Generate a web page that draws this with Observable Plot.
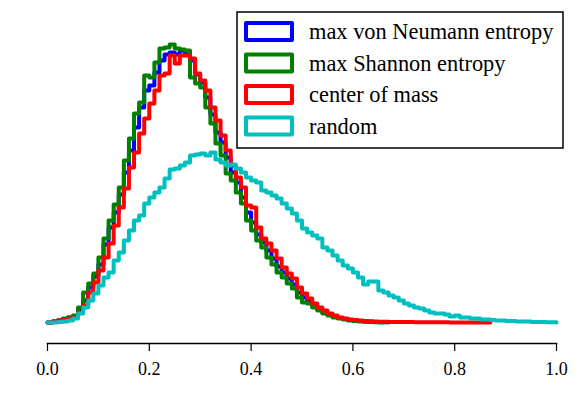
<!DOCTYPE html>
<html><head><meta charset="utf-8">
<script src="https://cdn.jsdelivr.net/npm/d3@7"></script>
<script src="https://cdn.jsdelivr.net/npm/@observablehq/plot@0.6"></script>
<style>body{margin:0;background:#fff} #chart{width:582px;height:394px} svg text{font-family:"Liberation Serif","Times New Roman","DejaVu Serif",serif !important;}</style>
</head><body><div id="chart"></div>
<script>
const binWidth = 0.01;
const seriesNames = ["max von Neumann entropy", "max Shannon entropy", "center of mass", "random"];
const seriesColors = ["#0000ff", "#008000", "#ff0000", "#00bfbf"];
const xTicks = [0.0, 0.2, 0.4, 0.6, 0.8, 1.0];

// histogram heights per bin of width 0.01, starting at 0
const vonNeumann = [0,1,2,3,5,6,12,22,35,46,58,78,95,110,128,150,172,195,215,232,237,250,262,268,270,268,272,268,262,248,240,225,208,190,180,165,150,140,125,110,100,88,80,72,64,56,50,44,38,30,25,21,17,13,10,8,6,4.5,3.5,2.5,2,1.5,1,0.7,0.5,0.3,0.2];
const shannon = [0,1,2,4,5,7,15,30,39,49,65,84,102,118,135,162,184,209,220,247,245,260,274,275,278,274,273,272,245,239,235,215,199,179,167,149,142,130,119,102,92,82,75,65,58,50,45,39,34,25,20,19,15,12,9,7,5,4,3,2,1.5,1,0.7,0.5,0.3,0.2];
const centerOfMass = [0,1,2,3,4,5,10,17,30,40,52,65,79,97,115,134,155,170,189,204,219,232,247,249,267,259,267,267,264,249,242,232,215,202,187,172,157,145,135,117,115,95,84,79,72,64,55,49,44,35,29,24,19,15,12,9,7,5,4,3,2.5,2,1.5,1.2,1,0.8,0.7,0.6,0.5,0.5,0.4,0.4,0.3,0.3,0.3,0.2,0.2,0.2,0.2,0.1,0.1,0.1,0.1,0.1,0.1,0.1,0.1];
const random = [0,0,0.5,1,2,4,9,15,22,29,37,45,50,62,70,82,92,102,107,119,125,130,135,144,153,154,157,160,167,168,169,167,170,163,160,157,158,154,150,145,142,140,132,130,127,124,119,114,109,102,94,90,87,84,75,72,67,62,57,54,50,45,38,41,41,32,30,27,25,22,19,17,15,14,12,10,9,9,8,6,7,5,5,4,4,3,3,2.5,2,2,1.5,1.5,1,1,1,0.5,0.5,0.5,0.3,0.2];

const seriesValues = [vonNeumann, shannon, centerOfMass, random];

function outline(values) {
  const pts = [{x: 0, y: 0}];
  values.forEach((v, i) => pts.push({x: i * binWidth, y: v}));
  pts.push({x: values.length * binWidth, y: 0});
  return pts;
}

const chart = Plot.plot({
  width: 582,
  height: 394,
  marginLeft: 47,
  marginRight: 26,
  marginTop: 20,
  marginBottom: 51,
  style: {fontFamily: "'Liberation Serif', 'Times New Roman', serif", fontSize: "18px", color: "black", background: "white"},
  x: {domain: [0, 1], label: null},
  y: {domain: [0, 302], insetBottom: 21, axis: null},
  marks: [
    ...seriesValues.map((vals, i) => Plot.lineY(outline(vals), {
      x: "x", y: "y", curve: "step-after", stroke: seriesColors[i], strokeWidth: 4
    })),
    Plot.frame({anchor: "bottom", strokeWidth: 1.5}),
    Plot.axisX({ticks: xTicks, label: null, tickSize: 8, tickPadding: 11, strokeWidth: 1.2, tickFormat: d3.format(".1f"), fontSize: 18})
  ]
});

// legend drawn inside the SVG
const svg = d3.select(chart);
const lg = svg.append("g").attr("transform", "translate(237,12)");
lg.append("rect").attr("x", 0).attr("y", 0).attr("width", 326).attr("height", 136)
  .attr("fill", "white").attr("stroke", "black").attr("stroke-width", 1.5);
seriesNames.forEach((name, i) => {
  const cy = 20 + i * 31.5;
  lg.append("rect").attr("x", 9).attr("y", cy - 9).attr("width", 46).attr("height", 17)
    .attr("fill", "white").attr("stroke", seriesColors[i]).attr("stroke-width", 4)
    .attr("stroke-linejoin", "round");
  lg.append("text").attr("x", 72).attr("y", cy + 7)
    .attr("text-anchor", "start")
    .attr("font-size", 22.4).attr("fill", "black")
    .text(name);
});

document.getElementById("chart").appendChild(chart);
</script>
</body></html>
